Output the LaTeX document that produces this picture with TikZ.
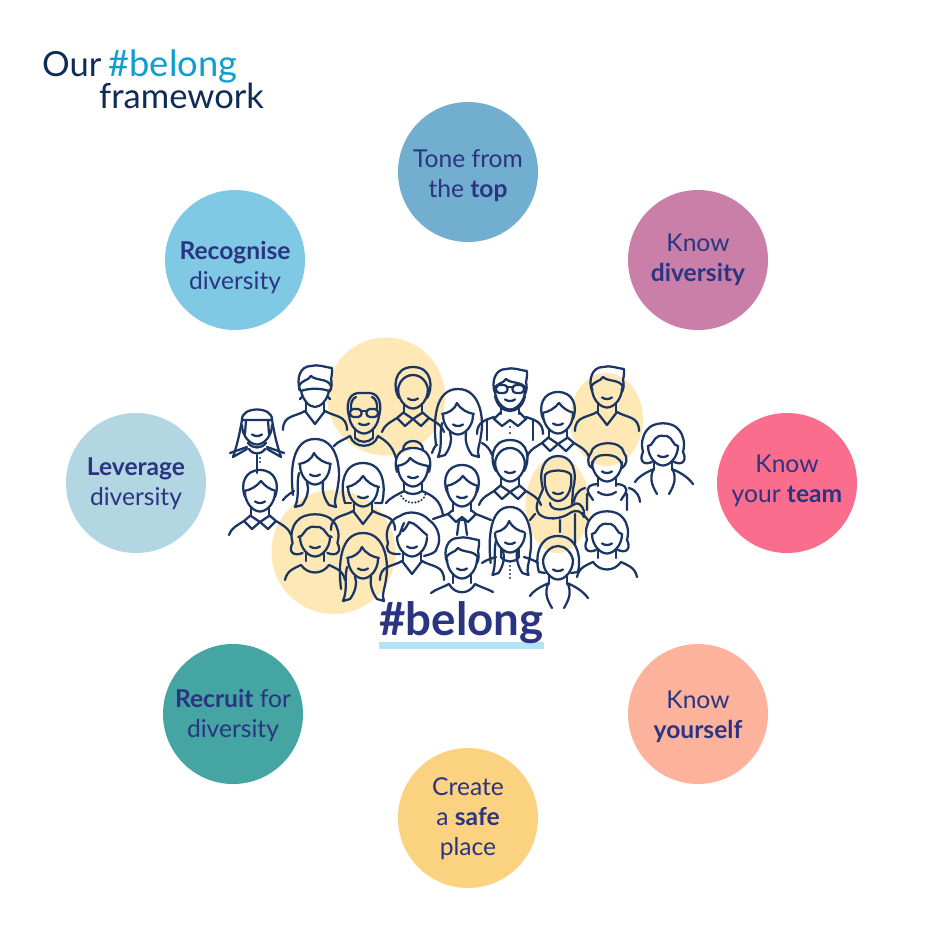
\documentclass[tikz,border=0pt]{standalone}
\usepackage{fontspec}
\setmainfont{Lato}
\definecolor{ink}{HTML}{1B3664}
\definecolor{navy}{HTML}{0F2B56}
\definecolor{txt}{HTML}{2B3481}
\definecolor{sun}{HTML}{FDE8B6}
\definecolor{cTone}{HTML}{71AECF}
\definecolor{cDiv}{HTML}{C97FA8}
\definecolor{cTeam}{HTML}{FB6D8C}
\definecolor{cSelf}{HTML}{FDB29B}
\definecolor{cSafe}{HTML}{FBD27F}
\definecolor{cRecruit}{HTML}{45A5A2}
\definecolor{cLev}{HTML}{B3D6E3}
\definecolor{cRec}{HTML}{7FC9E4}
\definecolor{cBar}{HTML}{B5E2F5}
\definecolor{cTag}{HTML}{0E9FCF}
\tikzset{
 bubble/.style={circle,draw=none,minimum size=42mm,inner sep=0pt},
 lbl/.style={inner sep=0pt,align=center,text=txt,font=\fontsize{21}{25.6}\selectfont},
 ttl/.style={anchor=base west,inner sep=0pt,font=\fontsize{29.5}{32}\selectfont,text=navy},
 sunny/.style={fill=sun,draw=none},
 lineart/.style={draw=ink,line width=0.68mm,line cap=round,line join=round},
 beads/.style={draw=ink,line width=0.7mm,line cap=round,dash pattern=on 0pt off 1mm},
}
% --- faces
\newcommand\Smile{\draw[lineart] (-5,9.5) .. controls (-2,11.5) and (2,11.5) .. (5,9.5);}
\newcommand\Face{\draw[lineart] (-15,0) .. controls (-15,11) and (-7,19.5) .. (0,19.5) .. controls (7,19.5) and (15,11) .. (15,0);\Smile}
% --- hair
\newcommand\HairSlick{\draw[lineart] (-14,9) .. controls (-20,0) and (-20,-22) .. (0,-22) .. controls (20,-22) and (20,0) .. (14,9);
 \draw[lineart] (-15,5) .. controls (-16,-7) and (-8,-14) .. (0,-14) .. controls (8,-14) and (16,-7) .. (15,5);}
\newcommand\HairSide{\draw[lineart] (-15,5) .. controls (-20,-8) and (-15,-22) .. (0,-22) .. controls (15,-22) and (20,-8) .. (15,5);
 \draw[lineart] (-16,-1) .. controls (-9,-2) and (-3,-6) .. (1,-11) .. controls (5,-6) and (9,-3) .. (16,-1);}
\newcommand\HairQuiff{\draw[lineart] (-15,3) .. controls (-19,-8) and (-15,-21) .. (-4,-21) .. controls (3,-23) and (9,-20) .. (17,-19) .. controls (17,-15) and (17,-12) .. (16,-8) .. controls (17,-4) and (17,0) .. (15,4);
 \draw[lineart] (-16,-1) .. controls (-12,-8) and (-7,-6) .. (-4,-11) .. controls (1,-6) and (13,-9) .. (16,-1);}
\newcommand\HairTails{\draw[lineart] (-22,30) .. controls (-25,5) and (-23,-26) .. (0,-26) .. controls (23,-26) and (26,5) .. (23,20) .. controls (22,30) and (18,36) .. (21,42) -- (14,40) .. controls (8,32) and (7,24) .. (8,17);
 \draw[lineart] (-20,42) -- (-13,40) .. controls (-7,32) and (-6,24) .. (-8,17) (-20,42) .. controls (-15,30) and (-19,20) .. (-16,8);
 \draw[lineart] (-16,-1) .. controls (-9,-2) and (-3,-6) .. (-1,-12) .. controls (3,-5) and (10,-2) .. (16,-1);}
\newcommand\HairFringeBob{\draw[lineart] (-18,16) .. controls (-23,0) and (-21,-24) .. (0,-24) .. controls (21,-24) and (23,0) .. (19,16) -- (12,16);
 \draw[lineart] (-18,16) -- (-12,16);
 \draw[lineart] (-16,0) .. controls (-10,-1) and (-4,-5) .. (0,-11) .. controls (4,-5) and (10,-1) .. (16,0);}
\newcommand\HairWave{\draw[lineart] (-11,16) .. controls (-20,20) and (-24,14) .. (-20,6) .. controls (-22,-2) and (-21,-10) .. (-16,-16) .. controls (-10,-25) and (10,-25) .. (16,-16) .. controls (21,-10) and (22,-2) .. (20,6) .. controls (24,14) and (20,20) .. (11,16);
 \draw[lineart] (-15,0) .. controls (-10,0) and (-10,-8) .. (-4,-10) .. controls (0,-11) and (1,-9) .. (4,-10) .. controls (10,-8) and (10,0) .. (15,0);}
\newcommand\HairBob{\draw[lineart] (-19,12) .. controls (-23,0) and (-21,-24) .. (0,-24) .. controls (21,-24) and (23,0) .. (20,12) -- (13,13);
 \draw[lineart] (-19,12) -- (-13,13);
 \draw[lineart] (-15,0) .. controls (-13,-9) and (-6,-14) .. (0,-14) .. controls (6,-14) and (13,-9) .. (15,0);}
\newcommand\HairAfro{\draw[lineart] (-12,17) .. controls (-24,18) and (-27,12) .. (-24,6) .. controls (-28,-6) and (-22,-18) .. (-12,-21) .. controls (-4,-27) and (10,-25) .. (17,-17) .. controls (26,-11) and (30,2) .. (25,11) .. controls (24,16) and (19,17) .. (12,19);
 \draw[lineart] (-15,0) .. controls (-11,-2) and (-11,-9) .. (-8,-14) (-9,-6) .. controls (-6,-9) and (-4,-13) .. (-3,-15) .. controls (4,-14) and (8,-7) .. (15,-2);}
\newcommand\HairBun{\draw[lineart] (-16,5) .. controls (-20,-8) and (-15,-19) .. (0,-19) .. controls (15,-19) and (20,-8) .. (16,5);
 \draw[lineart] (-10,-17) .. controls (-10,-29) and (10,-29) .. (10,-17);
 \draw[lineart] (-16,-1) .. controls (-9,-2) and (-5,-5) .. (-3,-9) .. controls (2,-4) and (8,-2) .. (16,-1);}
\newcommand\HairCurl{\draw[lineart] (-15,6) .. controls (-21,2) and (-19,-6) .. (-16,-9) .. controls (-15,-21) and (15,-23) .. (17,-9) .. controls (21,-5) and (20,3) .. (15,6);
 \draw[lineart] (-15,4) .. controls (-14,-5) and (-9,-7) .. (-2,-7) .. controls (6,-7) and (14,-5) .. (15,4);}
\newcommand\HairBald{\draw[lineart] (-15,2) .. controls (-18,-8) and (-16,-20) .. (-6,-21) -- (6,-21) .. controls (16,-20) and (18,-8) .. (15,2);
 \draw[lineart] (-13,-5) .. controls (-14,-11) and (-11,-16) .. (-8,-17) (13,-5) .. controls (14,-11) and (11,-16) .. (8,-17);}
\newcommand\HairKeff{\draw[lineart] (-15,-5) .. controls (-16,-19) and (16,-19) .. (15,-5) -- (-15,-5);
 \draw[lineart] (-15,-5) .. controls (-18,12) and (-20,20) .. (-24,32) -- (-10,24) (15,-5) .. controls (18,12) and (20,20) .. (24,32) -- (10,24);
 \draw[lineart] (-11,-5) -- (-12,9) (11,-5) -- (12,9);}
\newcommand\HairHijab{\draw[lineart] (-15,6) .. controls (-20,-12) and (-14,-27) .. (0,-27) .. controls (14,-27) and (20,-12) .. (15,6);
 \draw[lineart] (-13,-8) .. controls (-10,-14) and (10,-14) .. (13,-8);
 \draw[lineart] (-13,-8) .. controls (-15,9) and (-7,18) .. (0,18) .. controls (7,18) and (15,9) .. (13,-8);
 \draw[lineart] (-15,6) .. controls (-20,18) and (-24,24) .. (-19,31) .. controls (-12,38) and (4,36) .. (12,30) .. controls (18,26) and (24,28) .. (26,34);
 \draw[lineart] (-8,20) .. controls (-8,26) and (2,30) .. (15,22) .. controls (20,18) and (24,22) .. (26,28) -- (26,34);
 \draw[lineart] (15,6) -- (14,22);
 \draw[lineart] (2,37) -- (2,49) (17,31) -- (17,62) (-28,37) -- (-23,31) (30,37) -- (24,30);}
\newcommand\Glasses{\draw[lineart,rounded corners=3] (-14,-5) rectangle (-2.5,3) (2.5,-5) rectangle (14,3);\draw[lineart] (-2.5,-3) -- (2.5,-3);}
\newcommand\Mask{\draw[lineart] (-14,4) .. controls (-6,1) and (6,1) .. (14,4) .. controls (12,13) and (6,20) .. (0,20) .. controls (-6,20) and (-12,13) .. (-14,4);
 \draw[lineart] (-14,4) -- (-16,2) (14,4) -- (16,2) (-13,10) -- (-15,12) (13,10) -- (15,12);}
\newcommand\Beard{\draw[lineart] (-15,6) .. controls (-11,26) and (11,26) .. (15,6);}
% --- bodies
\newcommand\Neck{\draw[lineart] (-9,15) -- (-9,24) (9,15) -- (9,24);}
\newcommand\BodyV{\Neck\draw[lineart] (-32,43) .. controls (-32,28) and (-20,30) .. (-10,24) -- (0,37) -- (10,24) .. controls (20,30) and (32,28) .. (32,43);}
\newcommand\BodyCollar{\Neck\draw[lineart] (-9,23) -- (-16,29) -- (-8,37) -- (0,30) -- (8,37) -- (16,29) -- (9,23) (-9,24) -- (0,30) -- (9,24);
 \draw[lineart] (-31,43) .. controls (-28,35) and (-22,33) .. (-16,29) (16,29) .. controls (22,33) and (28,35) .. (31,43);}
\newcommand\BodyCrew{\Neck\draw[lineart] (-30,43) .. controls (-28,33) and (-20,31) .. (-14,28) .. controls (-7,38) and (7,38) .. (14,28) .. controls (20,31) and (28,33) .. (30,43);}
\newcommand\BodyKnit{\Neck\draw[lineart] (-30,32) .. controls (-26,27) and (-20,26) .. (-14,22) .. controls (-10,35) and (10,35) .. (14,22) .. controls (20,26) and (28,30) .. (32,44);
 \draw[lineart] (-9,24) .. controls (-4,29) and (4,29) .. (9,24);}
\newcommand\BodyNeck{\Neck\draw[lineart] (-27,36) .. controls (-22,30) and (-16,28) .. (-9,24) (9,24) .. controls (18,28) and (28,32) .. (30,49);
 \draw[beads] (-13,26) .. controls (-10,39) and (10,39) .. (13,26);
 \draw[lineart] (-9,24) .. controls (-4,28) and (4,28) .. (9,24);}
\newcommand\BodyTie{\Neck\draw[lineart] (-9,23) -- (-14,27) -- (-6,35) -- (0,30) -- (6,35) -- (14,27) -- (9,23);
 \draw[lineart] (-29,32) -- (-14,27) (14,27) -- (29,33);
 \draw[lineart] (-3,33) -- (-5,48) (3,33) -- (5,48) (-3,33) -- (3,33);}
\newcommand\BodySuit{\Neck\draw[lineart] (-31,34) .. controls (-26,30) and (-18,28) .. (-13,25) .. controls (-7,36) and (7,36) .. (13,25) .. controls (18,28) and (26,30) .. (31,33);}
\newcommand\BodyJacket{\Neck\draw[lineart] (-28,36) .. controls (-24,30) and (-16,26) .. (-9,23) (9,23) .. controls (16,26) and (24,30) .. (30,38) (-10,24) .. controls (-13,32) and (-12,38) .. (-6,48) (10,24) .. controls (13,32) and (12,38) .. (6,48);}
\newcommand\BodyBraces{\Neck\draw[lineart] (-9,22) -- (-16,29) -- (-8,36) -- (0,30) -- (8,36) -- (16,29) -- (9,22) (-33,44) .. controls (-33,32) and (-25,30) .. (-16,27) (33,44) .. controls (33,32) and (25,30) .. (16,27);
 \draw[lineart] (-23,30) -- (-23,50) (23,30) -- (23,50) (0,37) -- (0,37.1) (0,43) -- (0,43.1);}
\newcommand\BodyHood{\Neck\draw[lineart] (-9,22) .. controls (-16,22) and (-22,25) .. (-18,32) -- (-14,38) (9,22) .. controls (16,22) and (22,25) .. (18,32) -- (14,38) (-22,26) .. controls (-30,28) and (-33,36) .. (-33,40) (22,26) .. controls (30,28) and (33,36) .. (33,40) (-9,30) .. controls (-4,34) and (4,34) .. (9,30) (-20,32) -- (-20,48) (20,32) -- (20,48);}
\newcommand\BodyRobe{\draw[lineart] (-9,18) .. controls (-4,24) and (4,24) .. (9,18) (-8,24) .. controls (-4,30) and (4,30) .. (8,24) (-27,28) -- (-10,22) (27,28) -- (10,22);
 \draw[lineart] (0,30) -- (0,48) (3,33) -- (3,33.1) (3,37) -- (3,37.1);}
\newcommand\BodyPearl{\Neck\draw[lineart] (-28,30) .. controls (-24,27) and (-20,26) .. (-14,24) (14,24) .. controls (20,26) and (24,27) .. (28,30);
 \draw[lineart] (-9,24) .. controls (-5,30) and (5,30) .. (9,24);
 \draw[lineart] (0,33) -- (0,33.1) (0,37) -- (0,37.1) (0,41) -- (0,41.1) (0,45) -- (0,45.1);}
\newcommand\who[3]{\begin{scope}[shift={(#1,#2)}]#3\end{scope}}
\begin{document}
\begin{tikzpicture}[x=0.3mm,y=-0.3mm]
\useasboundingbox (0,0) rectangle (929,929);
\fill[white] (0,0) rectangle (929,929);
% title
\node[ttl] (ttlA) at (42,76) {Our\hspace{6pt}\textcolor{cTag}{\fontsize{31}{32}\selectfont\#belong}};
\node[ttl] (ttlB) at (99,108) {framework};
% bubbles
\node[bubble,fill=cTone] (tone) at (468,172) {};
\node[bubble,fill=cDiv] (kdiv) at (698,260) {};
\node[bubble,fill=cTeam] (team) at (787,483) {};
\node[bubble,fill=cSelf] (self) at (698,714) {};
\node[bubble,fill=cSafe] (safe) at (468,818) {};
\node[bubble,fill=cRecruit] (recr) at (233,714) {};
\node[bubble,fill=cLev] (lev) at (136,483) {};
\node[bubble,fill=cRec] (reco) at (235,260) {};
\node[lbl] (toneT) at (468,176) {Tone from\\the \textbf{top}};
\node[lbl] (kdivT) at (698,260) {Know\\\textbf{diversity}};
\node[lbl] (teamT) at (787,481) {Know\\your \textbf{team}};
\node[lbl] (selfT) at (698,717) {Know\\\textbf{yourself}};
\node[lbl] (safeT) at (468,819) {Create\\a \textbf{safe}\\place};
\node[lbl] (recrT) at (233,715) {\textbf{Recruit} for\\diversity};
\node[lbl] (levT) at (136,484) {\textbf{Leverage}\\diversity};
\node[lbl] (recoT) at (235,267) {\textbf{Recognise}\\diversity};
% sun discs
\fill[sunny] (386,396.5) circle [radius=59];
\fill[sunny] (333.5,552) circle [radius=62];
\fill[sunny] (606.5,419.5) ellipse [x radius=36.5,y radius=46.5];
\fill[sunny] (557.5,505) ellipse [x radius=32,y radius=48];
% people
\who{257}{425}{\HairKeff\Face\BodyRobe}
\who{315}{387}{\HairQuiff\Mask\BodyV}
\who{364}{414}{\HairBald\Face\Glasses\BodyKnit}
\who{413}{389}{\HairSlick\Face\BodyCollar}
\who{458}{415}{\HairTails\Face\draw[lineart] (-26,38) .. controls (-24,32) and (-22,30) .. (-21,30) (24,28) .. controls (28,30) and (32,34) .. (34,40);}
\who{510}{390}{\HairQuiff\Face\Glasses\Beard\BodyBraces}
\who{558}{414}{\HairSide\Face\BodyCollar}
\who{607}{388}{\HairQuiff\Face\BodyV}
\who{663}{446}{\HairWave\Face\BodyJacket}
\who{607}{462}{\HairCurl\Face\BodyHood}
\who{510}{462}{\HairSlick\Face\BodyCollar}
\who{558}{483}{\HairHijab\Smile}
\who{462}{487}{\HairSide\Face\BodyTie}
\who{413}{467}{\HairBun\Face\BodyNeck}
\who{363}{487}{\HairFringeBob\Face\BodyV}
\who{315}{465}{\HairTails\Face\draw[lineart] (-32,35) .. controls (-28,30) and (-24,28) .. (-21,26);}
\who{260}{492}{\HairSide\Face\BodyCollar}
\who{315}{537}{\begin{scope}[xscale=1.12]\HairWave\end{scope}\Face\BodyCrew}
\who{363}{559}{\HairTails\Face}
\who{412}{537}{\HairAfro\Face\BodyV}
\who{462}{559}{\HairQuiff\Face\BodySuit}
\who{510}{533}{\begin{scope}[xscale=.88]\HairTails\end{scope}\Face\BodyPearl}
\who{558}{560}{\HairBob\Face\BodyJacket}
\who{607}{534}{\HairWave\Face\BodyCrew}
% hashtag
\fill[cBar] (379,642) rectangle (544,649);
\node[anchor=base,inner sep=0pt,font=\bfseries\fontsize{39}{44}\selectfont,text=txt] (tag) at (461.5,635) {\#belong};
\end{tikzpicture}
\end{document}
